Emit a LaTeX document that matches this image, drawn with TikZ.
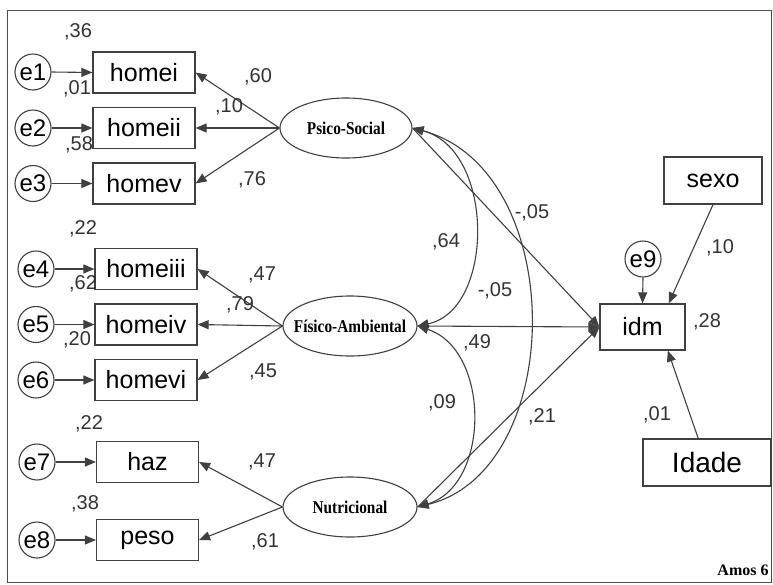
\documentclass[tikz,border=0pt]{standalone}
\usepackage{fontspec}
\setmainfont{Liberation Sans}
\newfontfamily\latfont[FakeStretch=0.85]{Liberation Serif}
\newfontfamily\serifb{Liberation Serif}
\usetikzlibrary{shapes.geometric,arrows.meta}
% latent label: zero-width box so the ellipse keeps its set size
\newcommand{\latlabel}[1]{\makebox[0pt]{#1}}

\begin{document}
\begin{tikzpicture}[x=1pt,y=-1pt,
  line/.style={draw=black!75, line width=1.1pt},
  arr/.style={line, -{Triangle[length=11pt,width=9pt]}},
  dbl/.style={line, {Triangle[length=11pt,width=9pt]}-{Triangle[length=11pt,width=9pt]}},
  obs/.style={draw=black!75, line width=1.2pt, minimum width=102pt, minimum height=41pt,
    inner sep=0pt, font=\fontsize{25}{25}\selectfont},
  err/.style={draw=black!75, line width=1.1pt, circle, minimum size=36pt, inner sep=0pt,
    font=\fontsize{24}{24}\selectfont},
  lat/.style={draw=black!75, line width=1.1pt, ellipse, minimum width=132pt, minimum height=60pt,
    inner sep=0pt, font=\latfont\bfseries\fontsize{18}{18}\selectfont},
  est/.style={text=black!80, font=\fontsize{20}{20}\selectfont, inner sep=0pt},
]
% canvas and frame
\fill[white] (0,0) rectangle (773,584);
\useasboundingbox (0,0) rectangle (773,584);
\draw[black!70, line width=0.8pt] (7,10) rectangle (771,582);

% error terms
\node[err] (e1) at (33,72) {e1};
\node[err] (e2) at (33,128) {e2};
\node[err] (e3) at (33,183.5) {e3};
\node[err] (e4) at (36,269) {e4};
\node[err] (e5) at (36,324.5) {e5};
\node[err] (e6) at (36,380) {e6};
\node[err] (e7) at (37,462) {e7};
\node[err] (e8) at (37,540) {e8};
\node[err] (e9) at (643,259) {e9};

% observed indicators
\node[obs] (homei) at (144,72.5) {homei};
\node[obs] (homeii) at (144,128) {homeii};
\node[obs] (homev) at (144,183.5) {homev};
\node[obs] (homeiii) at (146,269) {homeiii};
\node[obs] (homeiv) at (146,324.5) {homeiv};
\node[obs] (homevi) at (146,380) {homevi};
\node[obs] (haz) at (147.5,462) {haz};
\node[obs] (peso) at (147.5,540) {peso};

% outcome and covariates
\node[obs, minimum width=85pt, minimum height=46pt] (idm) at (642.5,327) {idm};
\node[obs, minimum width=98pt, minimum height=47pt] (sexo) at (713,180.5) {sexo};
\node[obs, minimum width=128pt, minimum height=47pt, font=\fontsize{28}{28}\selectfont] (idade) at (707,462.5) {Idade};

% latent factors
\node[lat] (ps) at (346,128) {\latlabel{Psico-Social}};
\node[lat, minimum width=134pt] (fa) at (350,326) {\latlabel{Físico-Ambiental}};
\node[lat, minimum width=134pt] (nu) at (350,507) {\latlabel{Nutricional}};

% residual paths
\foreach \e/\b in {e1/homei, e2/homeii, e3/homev, e4/homeiii, e5/homeiv, e6/homevi, e7/haz, e8/peso}
  \draw[arr] (\e.east) -- (\b.west);
\draw[arr] (e9.south) -- (idm.north);

% loadings
\foreach \b in {homei, homeii, homev}
  \draw[arr] (ps.west) -- (\b.east);
\foreach \b in {homeiii, homeiv, homevi}
  \draw[arr] (fa.west) -- (\b.east);
\foreach \b in {haz, peso}
  \draw[arr] (nu.west) -- (\b.east);

% structural paths
\draw[arr] (ps.east) -- (idm.west);
\draw[arr] (fa.east) -- (idm.west);
\draw[arr] (nu.east) -- (idm.west);
\draw[arr] (sexo.south) -- (idm.42);
\draw[arr] (idade.110) -- (idm.-43);

% factor covariances
\draw[dbl] (ps.east) .. controls +(83,22) and +(77,-16) .. (fa.east);
\draw[dbl] (ps.east) .. controls +(156,42) and +(150,-37) .. (nu.east);
\draw[dbl] (fa.east) .. controls +(73,24) and +(73,-22) .. (nu.east);

% estimates
\node[est] (r1) at (78,32) {,36};
\node[est] (r2) at (77,89) {,01};
\node[est] (r3) at (79,145) {,58};
\node[est] (r4) at (83,229) {,22};
\node[est] (r5) at (83,284) {,62};
\node[est] (r6) at (77,340) {,20};
\node[est] (r7) at (89,424) {,22};
\node[est] (r8) at (85,504) {,38};
\node[est] (l1) at (258,77) {,60};
\node[est] (l2) at (229,107) {,10};
\node[est] (l3) at (252,180) {,76};
\node[est] (l4) at (262,275) {,47};
\node[est] (l5) at (240,305) {,79};
\node[est] (l6) at (263,372) {,45};
\node[est] (l7) at (262,462) {,47};
\node[est] (l8) at (265,542) {,61};
\node[est] (c1) at (446,242) {,64};
\node[est] (c2) at (532,213) {-,05};
\node[est] (c3) at (495,291) {-,05};
\node[est] (c4) at (477,343) {,49};
\node[est] (c5) at (442,403) {,09};
\node[est] (c6) at (542,417) {,21};
\node[est] (s1) at (720,248) {,10};
\node[est] (s2) at (707,322) {,28};
\node[est] (s3) at (657,415) {,01};
\node[font=\serifb\bfseries\fontsize{16}{16}\selectfont, inner sep=0pt] (amos) at (743,570) {Amos 6};
\end{tikzpicture}
\end{document}
